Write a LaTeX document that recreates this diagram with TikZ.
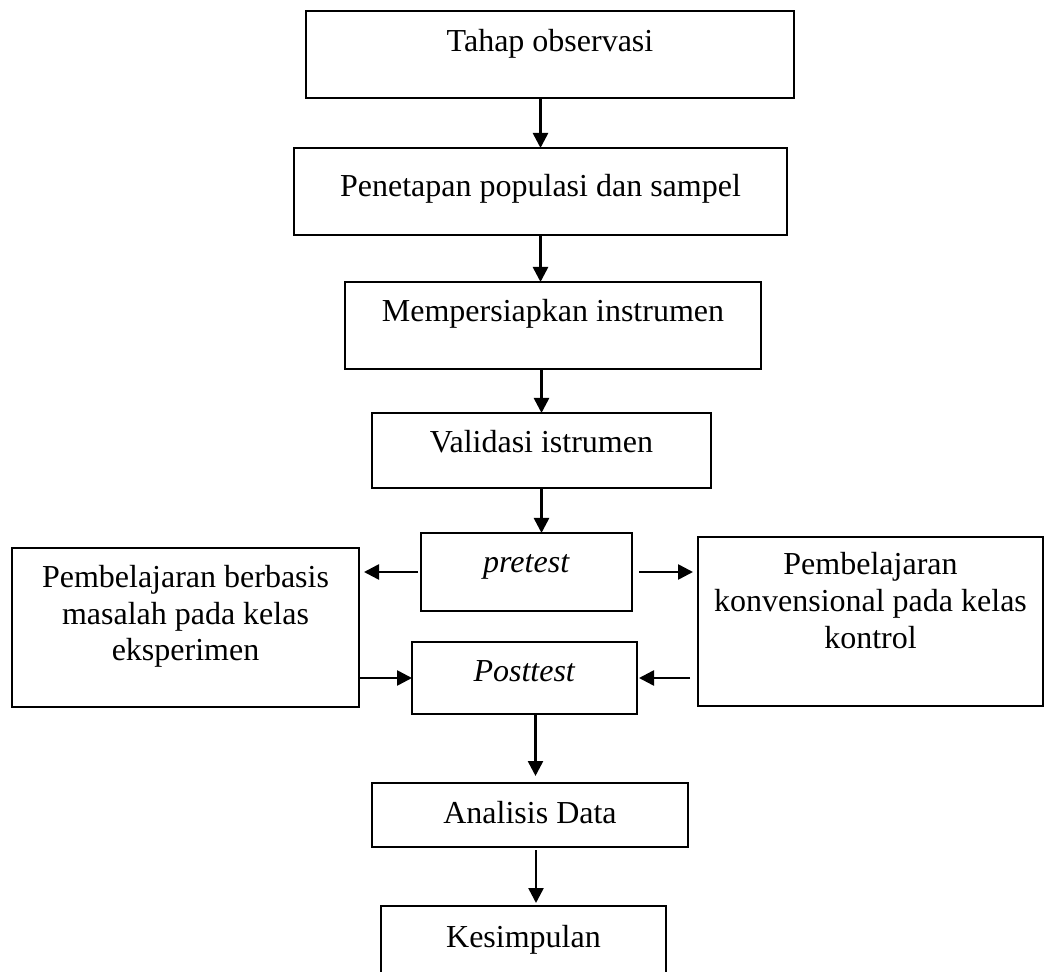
\documentclass[tikz,border=0pt]{standalone}
\usepackage{fontspec}
\setmainfont{Liberation Serif}
\usetikzlibrary{arrows.meta}

\begin{document}
\begin{tikzpicture}[x=0.5pt, y=-0.5pt,
		kotak/.style={draw, line width=1pt, inner sep=0pt, outer sep=0pt, anchor=north, font=\fontsize{16}{18.25}\selectfont},
		panah/.style={line width=1.3pt, -{Triangle[length=7.5pt, width=7.5pt]}}]
				\useasboundingbox (0,0) rectangle (1044,972);
				
				\node[kotak, minimum width=244pt, text height=20.5pt, text depth=23pt] (observasi) at (550,11) {Tahap observasi};
				\node[kotak, minimum width=246.5pt, text height=24.5pt, text depth=19pt] (populasi) at (540.5,148) {Penetapan populasi dan sampel};
				\node[kotak, minimum width=208pt, text height=20pt, text depth=23.5pt] (instrumen) at (553,282) {Mempersiapkan instrumen};
				\node[kotak, minimum width=169.5pt, text height=20pt, text depth=17.5pt] (validasi) at (541.5,413) {Validasi istrumen};
				\node[kotak, minimum width=105.5pt, text height=20pt, text depth=19pt] (pretest) at (526.5,533) {\textit{pretest}};
				
				\node[kotak, align=flush center, text width=173.5pt, text height=20pt, text depth=59.5pt] (eksperimen) at (185.5,548) {Pembelajaran berbasis\\ masalah pada kelas\\ eksperimen};
				\node[kotak, align=flush center, text width=172.5pt, text height=19pt, text depth=65.5pt] (kontrol) at (870.5,537) {Pembelajaran\\ konvensional pada kelas\\ kontrol};
				
				\node[kotak, minimum width=112.5pt, text height=20pt, text depth=16pt] (posttest) at (524.5,642) {\textit{Posttest}};
				\node[kotak, minimum width=158pt, text height=20pt, text depth=12pt] (analisis) at (530,783) {Analisis Data};
				\node[kotak, minimum width=142.5pt, text height=20.5pt, text depth=14.5pt] (kesimpulan) at (523.5,906) {Kesimpulan};
				
				\draw[panah] (populasi.north |- observasi.south) -- (populasi.north);
				\draw[panah] (populasi.south) -- (populasi.south |- instrumen.north);
				\draw[panah] (validasi.north |- instrumen.south) -- (validasi.north);
				\draw[panah] (validasi.south) -- (validasi.south |- pretest.north);
				
				\draw[panah, shorten <=1.5pt, shorten >=2.5pt] (pretest.west) -- (pretest.west -| eksperimen.east);
				\draw[panah, shorten <=3.5pt, shorten >=2.5pt] (pretest.east) -- (pretest.east -| kontrol.west);
				\draw[panah, shorten <=0.5pt] (eksperimen.east |- posttest.west) -- (posttest.west);
				\draw[panah, shorten <=4pt, shorten >=1pt] (kontrol.west |- posttest.east) -- (posttest.east);
				
				\draw[panah, shorten >=3.5pt] ([xshift=5.5pt]posttest.south) -- ([xshift=5.5pt]posttest.south |- analisis.north);
				\draw[panah, shorten <=1.5pt, shorten >=1.5pt] ([xshift=3pt]analisis.south) -- ([xshift=3pt]analisis.south |- kesimpulan.north);
			\end{tikzpicture}
\end{document}
